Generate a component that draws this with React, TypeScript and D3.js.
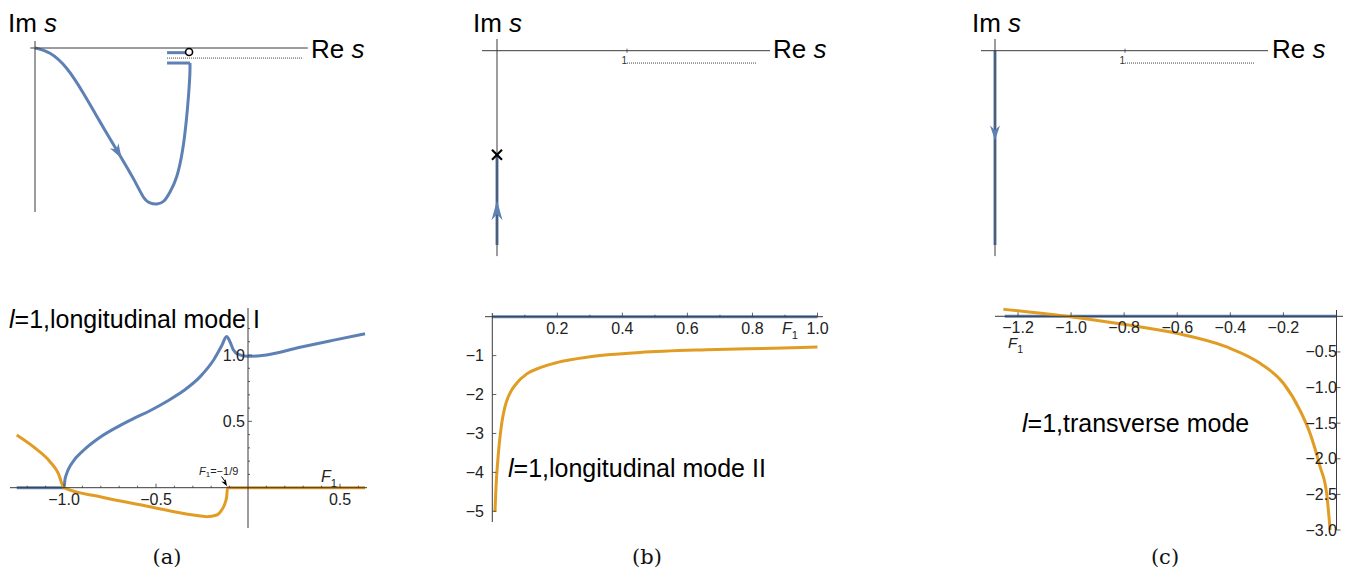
import React from 'react';
import * as d3 from 'd3';

// ---------- colours & fonts ----------
const BLUE = '#5E81B5';
const ORANGE = '#E19C24';
const AXIS = '#3a3a3a';
const SANS = '"Liberation Sans", Arial, Helvetica, sans-serif';
const SERIF = '"DejaVu Serif", "Liberation Serif", serif';

// ---------- root-locus sketches (Re s, Im s) ----------
// (a) longitudinal mode I
const locusARe = [0, 0.097, 0.204, 0.312, 0.419, 0.527, 0.634, 0.699, 0.742, 0.787, 0.832, 0.871, 0.914, 0.952, 0.976, 0.991, 0.999, 1.0];
const locusAIm = [0, -0.034, -0.131, -0.292, -0.475, -0.658, -0.841, -0.961, -0.999, -1.006, -0.987, -0.929, -0.831, -0.66, -0.47, -0.3, -0.17, -0.097];
const stubAIm = [-0.03, -0.097];
const stubAReFrom = [0.852, 0.852];
const stubAReTo = [0.985, 1.0];
const zeroA = [0.994, -0.026];
const cutA = [0.852, 1.73, -0.065];
const arrowARe = 0.54;

// (b) longitudinal mode II
const branchBIm = [-1.495, -0.8];
const poleBIm = -0.8;
const arrowBIm = -1.15;

// (c) transverse mode
const branchCIm = [0, -1.495];
const arrowCIm = -0.69;

const cutBC = [1, 2.0, -0.095];

// ---------- frequency curves vs F1 ----------
const modeIBlueF = [-1.257, -1.0, -0.995, -0.985, -0.958, -0.895, -0.804, -0.714, -0.623, -0.533, -0.442, -0.351, -0.261, -0.188, -0.143, -0.116, -0.098, -0.08, -0.053, 0, 0.1, 0.283, 0.46, 0.636];
const modeIBlueV = [0, 0, 0.058, 0.108, 0.183, 0.28, 0.38, 0.455, 0.52, 0.58, 0.65, 0.73, 0.835, 0.96, 1.07, 1.14, 1.1, 1.04, 1.005, 0.99, 1.0, 1.058, 1.11, 1.16];
const modeIOrangeF = [-1.257, -1.167, -1.076, -1.031, -1.0, -0.804, -0.533, -0.297, -0.224, -0.17, -0.143, -0.125, -0.116, -0.111, 0.636];
const modeIOrangeV = [0.397, 0.309, 0.196, 0.108, 0, -0.068, -0.143, -0.206, -0.218, -0.206, -0.168, -0.118, -0.068, 0, 0];
const modeIXTicks = [-1.0, -0.5, 0.5];
const modeIYTicks = [0.5, 1.0];

const modeIIBlueF = [0, 1.0];
const modeIIBlueV = [0, 0];
const modeIIOrangeF = [0.0083, 0.0114, 0.0154, 0.0216, 0.029, 0.039, 0.054, 0.075, 0.106, 0.147, 0.198, 0.3, 0.454, 0.659, 0.864, 1.0];
const modeIIOrangeV = [-5.01, -4.37, -3.86, -3.25, -2.74, -2.31, -1.97, -1.71, -1.47, -1.31, -1.18, -1.03, -0.92, -0.85, -0.81, -0.78];
const modeIIXTicks = [0.2, 0.4, 0.6, 0.8, 1.0];
const modeIIYTicks = [-1, -2, -3, -4, -5];

const transBlueF = [-1.25, 0];
const transBlueV = [0, 0];
const transOrangeF = [-1.255, -1.167, -1.004, -0.79, -0.602, -0.414, -0.288, -0.2, -0.1375, -0.1, -0.062, -0.037, -0.024];
const transOrangeV = [0.098, 0.065, -0.005, -0.12, -0.24, -0.43, -0.66, -0.94, -1.32, -1.64, -2.11, -2.49, -3.0];
const transXTicks = [-1.2, -1.0, -0.8, -0.6, -0.4, -0.2];
const transYTicks = [-0.5, -1.0, -1.5, -2.0, -2.5, -3.0];

// ---------- helpers ----------
const zip = (a: number[], b: number[]) => a.map((v, i) => [v, b[i]] as [number, number]);
const fmt = (v: number, d: number) => (v < 0 ? '\u2212' : '') + Math.abs(v).toFixed(d);
const isMajor = (list: number[], v: number) => list.some(m => Math.abs(m - v) < 1e-9);

function arrowPath(x: number, y: number, angle: number, len: number, wid: number) {
  const c = Math.cos(angle), s = Math.sin(angle);
  const pt = (u: number, v: number) => [x + u * c - v * s, y + u * s + v * c];
  const p = [pt(0, 0), pt(-len, -wid / 2), pt(-len * 0.7, 0), pt(-len, wid / 2)];
  return 'M' + p.map(q => q[0].toFixed(2) + ',' + q[1].toFixed(2)).join('L') + 'Z';
}

function ImRe({ x, y, rx, ry }: { x: number; y: number; rx: number; ry: number }) {
  return (
    <g fontFamily={SANS} fontSize={26} fill="#000">
      <text x={x} y={y}>Im <tspan fontStyle="italic">s</tspan></text>
      <text x={rx} y={ry}>Re <tspan fontStyle="italic">s</tspan></text>
    </g>
  );
}

function F1({ x, y, size = 16 }: { x: number; y: number; size?: number }) {
  return (
    <text x={x} y={y} fontFamily={SANS} fontSize={size} fill="#222">
      <tspan fontStyle="italic">F</tspan>
      <tspan fontSize={size * 0.7} dy={size * 0.3}>1</tspan>
    </text>
  );
}

function Title({ x, y, rest }: { x: number; y: number; rest: string }) {
  return (
    <text x={x} y={y} fontFamily={SANS} fontSize={25} fill="#000">
      <tspan fontStyle="italic">l</tspan>{rest}
    </text>
  );
}

export default function App() {
  // top sketches
  const xA = d3.scaleLinear().domain([0, 1]).range([35, 190]);
  const yA = d3.scaleLinear().domain([0, -1]).range([48, 203]);
  const xB = d3.scaleLinear().domain([0, 1]).range([497, 627]);
  const yB = d3.scaleLinear().domain([0, -1]).range([50.7, 180.7]);
  const xC = d3.scaleLinear().domain([0, 1]).range([995, 1125]);
  const yC = yB;

  const locusLine = d3.line<[number, number]>().x(d => xA(d[0])).y(d => yA(d[1])).curve(d3.curveNatural);
  const locusA = zip(locusARe, locusAIm);
  // arrow on locus (a): interpolate along the branch
  let ai = 0;
  while (ai < locusARe.length - 2 && locusARe[ai + 1] < arrowARe) ai++;
  const t = (arrowARe - locusARe[ai]) / (locusARe[ai + 1] - locusARe[ai]);
  const arIm = locusAIm[ai] + t * (locusAIm[ai + 1] - locusAIm[ai]);
  const angA = Math.atan2(yA(locusAIm[ai + 1]) - yA(locusAIm[ai]), xA(locusARe[ai + 1]) - xA(locusARe[ai]));
  const tipAx = xA(arrowARe) + Math.cos(angA) * 6;
  const tipAy = yA(arIm) + Math.sin(angA) * 6;

  // bottom plots
  const xa = d3.scaleLinear().domain([-1, 0.5]).range([64, 340]);
  const ya = d3.scaleLinear().domain([0, 1]).range([487.7, 355]);
  const xb = d3.scaleLinear().domain([0, 1]).range([492.3, 817.5]);
  const yb = d3.scaleLinear().domain([0, -5]).range([316.7, 511.3]);
  const xc = d3.scaleLinear().domain([-1.2, 0]).range([1018, 1336.5]);
  const yc = d3.scaleLinear().domain([0, -3]).range([316.3, 530]);

  const mk = (sx: d3.ScaleLinear<number, number>, sy: d3.ScaleLinear<number, number>) =>
    d3.line<[number, number]>().x(d => sx(d[0])).y(d => sy(d[1])).curve(d3.curveMonotoneX);
  const la = mk(xa, ya), lb = mk(xb, yb), lc = mk(xc, yc);

  const tickLabel = { fontFamily: SANS, fontSize: 16, fill: '#222' } as const;

  return (
    <svg width={1352} height={571} viewBox="0 0 1352 571" style={{ position: 'absolute', left: 0, top: 0, background: '#fff' }}>
      <rect width={1352} height={571} fill="#fff" />

      {/* ===== (a) top: root locus ===== */}
      <path d={locusLine(locusA) || ''} fill="none" stroke={BLUE} strokeWidth={3} />
      {stubAIm.map((im, i) => (
        <line key={i} x1={xA(stubAReFrom[i])} x2={xA(stubAReTo[i])} y1={yA(im)} y2={yA(im)} stroke={BLUE} strokeWidth={3} />
      ))}
      <path d={arrowPath(tipAx, tipAy, angA, 15, 10)} fill={BLUE} />
      <line x1={xA(cutA[0])} x2={xA(cutA[1])} y1={yA(cutA[2])} y2={yA(cutA[2])} stroke="#444" strokeWidth={1} strokeDasharray="1,1" />
      <line x1={xA(-0.03)} x2={xA(1.76)} y1={yA(0)} y2={yA(0)} stroke={AXIS} strokeWidth={1} />
      <line x1={xA(0)} x2={xA(0)} y1={yA(0.045)} y2={yA(-1.058)} stroke={AXIS} strokeWidth={1} />
      <circle cx={xA(zeroA[0])} cy={yA(zeroA[1])} r={3.5} fill="#fff" stroke="#000" strokeWidth={1.6} />
      <ImRe x={8} y={32} rx={311} ry={58} />

      {/* ===== (b) top ===== */}
      <line x1={xB(0)} x2={xB(0)} y1={yB(branchBIm[0])} y2={yB(branchBIm[1])} stroke={BLUE} strokeWidth={3} />
      <line x1={xB(cutBC[0])} x2={xB(cutBC[1])} y1={yB(cutBC[2])} y2={yB(cutBC[2])} stroke="#444" strokeWidth={1} strokeDasharray="1,1" />
      <line x1={xB(-0.115)} x2={xB(2.1)} y1={yB(0)} y2={yB(0)} stroke={AXIS} strokeWidth={1} />
      <line x1={xB(0)} x2={xB(0)} y1={yB(0.09)} y2={yB(-1.58)} stroke={AXIS} strokeWidth={1} />
      <line x1={xB(1)} x2={xB(1)} y1={yB(0) - 2} y2={yB(0) + 2} stroke={AXIS} strokeWidth={0.8} />
      <text x={xB(1)} y={yB(-0.095) + 1} fontFamily={SANS} fontSize={10} textAnchor="end" fill="#333">1</text>
      <path d={arrowPath(xB(0), yB(arrowBIm), -Math.PI / 2, 20, 11)} fill={BLUE} />
      <g stroke="#000" strokeWidth={2.2}>
        <line x1={xB(0) - 5} x2={xB(0) + 5} y1={yB(poleBIm) - 5} y2={yB(poleBIm) + 5} />
        <line x1={xB(0) - 5} x2={xB(0) + 5} y1={yB(poleBIm) + 5} y2={yB(poleBIm) - 5} />
      </g>
      <ImRe x={473} y={32} rx={773} ry={58} />

      {/* ===== (c) top ===== */}
      <line x1={xC(0)} x2={xC(0)} y1={yC(branchCIm[0])} y2={yC(branchCIm[1])} stroke={BLUE} strokeWidth={3} />
      <line x1={xC(cutBC[0])} x2={xC(cutBC[1])} y1={yC(cutBC[2])} y2={yC(cutBC[2])} stroke="#444" strokeWidth={1} strokeDasharray="1,1" />
      <line x1={xC(-0.108)} x2={xC(2.1)} y1={yC(0)} y2={yC(0)} stroke={AXIS} strokeWidth={1} />
      <line x1={xC(0)} x2={xC(0)} y1={yC(0.09)} y2={yC(-1.58)} stroke={AXIS} strokeWidth={1} />
      <line x1={xC(1)} x2={xC(1)} y1={yC(0) - 2} y2={yC(0) + 2} stroke={AXIS} strokeWidth={0.8} />
      <text x={xC(1)} y={yC(-0.095) + 1} fontFamily={SANS} fontSize={10} textAnchor="end" fill="#333">1</text>
      <path d={arrowPath(xC(0), yC(arrowCIm), Math.PI / 2, 15, 10)} fill={BLUE} />
      <ImRe x={972} y={32} rx={1272} ry={58} />

      {/* ===== (a) bottom: longitudinal mode I ===== */}
      <path d={la(zip(modeIBlueF, modeIBlueV)) || ''} fill="none" stroke={BLUE} strokeWidth={3} />
      <path d={la(zip(modeIOrangeF, modeIOrangeV)) || ''} fill="none" stroke={ORANGE} strokeWidth={3} />
      <line x1={10} x2={367} y1={ya(0)} y2={ya(0)} stroke={AXIS} strokeWidth={1} />
      <line x1={xa(0)} x2={xa(0)} y1={308} y2={528} stroke={AXIS} strokeWidth={1} />
      {d3.range(-12, 7).map(k => k / 10).filter(v => Math.abs(v) > 1e-9).map(v => (
        <line key={'amx' + v} x1={xa(v)} x2={xa(v)} y1={ya(0)} y2={ya(0) - (isMajor(modeIXTicks, v) ? 4 : 2)} stroke={AXIS} strokeWidth={0.8} />
      ))}
      {d3.range(1, 13).map(k => k / 10).map(v => (
        <line key={'amy' + v} x1={xa(0)} x2={xa(0) + (isMajor(modeIYTicks, v) ? 4 : 2)} y1={ya(v)} y2={ya(v)} stroke={AXIS} strokeWidth={0.8} />
      ))}
      {modeIXTicks.map(v => (
        <text key={'ax' + v} x={xa(v)} y={505} textAnchor="middle" {...tickLabel}>{fmt(v, 1)}</text>
      ))}
      {modeIYTicks.map(v => (
        <text key={'ay' + v} x={xa(0) - 3} y={ya(v) + 5.5} textAnchor="end" {...tickLabel}>{fmt(v, 1)}</text>
      ))}
      <F1 x={321} y={482} />
      <text x={199} y={475} fontFamily={SANS} fontSize={11} fill="#222">
        <tspan fontStyle="italic">F</tspan><tspan fontSize={8} dy={2}>1</tspan><tspan dy={-2}>=−1/9</tspan>
      </text>
      <line x1={221.5} y1={476.5} x2={225.5} y2={482} stroke="#000" strokeWidth={1} />
      <path d={arrowPath(xa(-1 / 9) - 0.5, ya(0) - 1.5, Math.atan2(9.5, 5.6), 7, 5)} fill="#000" />
      <Title x={9} y={328} rest="=1,longitudinal mode I" />

      {/* ===== (b) bottom: longitudinal mode II ===== */}
      <path d={lb(zip(modeIIBlueF, modeIIBlueV)) || ''} fill="none" stroke={BLUE} strokeWidth={3} />
      <path d={lb(zip(modeIIOrangeF, modeIIOrangeV)) || ''} fill="none" stroke={ORANGE} strokeWidth={3} />
      <line x1={485} x2={823} y1={yb(0)} y2={yb(0)} stroke={AXIS} strokeWidth={1} />
      <line x1={xb(0)} x2={xb(0)} y1={313} y2={522} stroke={AXIS} strokeWidth={1} />
      {d3.range(1, 11).map(k => k / 10).map(v => (
        <line key={'bmx' + v} x1={xb(v)} x2={xb(v)} y1={yb(0)} y2={yb(0) - (isMajor(modeIIXTicks, v) ? 4 : 2)} stroke={AXIS} strokeWidth={0.8} />
      ))}
      {modeIIYTicks.map(v => (
        <line key={'bmy' + v} x1={xb(0)} x2={xb(0) + 4} y1={yb(v)} y2={yb(v)} stroke={AXIS} strokeWidth={0.8} />
      ))}
      {modeIIXTicks.map(v => (
        <text key={'bx' + v} x={xb(v)} y={334} textAnchor="middle" {...tickLabel}>{fmt(v, 1)}</text>
      ))}
      {modeIIYTicks.map(v => (
        <text key={'by' + v} x={484} y={yb(v) + 5.5} textAnchor="end" {...tickLabel}>{fmt(v, 0)}</text>
      ))}
      <F1 x={782} y={334} />
      <Title x={508} y={477} rest="=1,longitudinal mode II" />

      {/* ===== (c) bottom: transverse mode ===== */}
      <path d={lc(zip(transBlueF, transBlueV)) || ''} fill="none" stroke={BLUE} strokeWidth={3} />
      <path d={lc(zip(transOrangeF, transOrangeV)) || ''} fill="none" stroke={ORANGE} strokeWidth={3} />
      <line x1={995} x2={1343} y1={yc(0)} y2={yc(0)} stroke={AXIS} strokeWidth={1} />
      <line x1={xc(0)} x2={xc(0)} y1={310} y2={530} stroke={AXIS} strokeWidth={1} />
      {transXTicks.map(v => (
        <line key={'cmx' + v} x1={xc(v)} x2={xc(v)} y1={yc(0)} y2={yc(0) - 4} stroke={AXIS} strokeWidth={0.8} />
      ))}
      {transYTicks.map(v => (
        <line key={'cmy' + v} x1={xc(0)} x2={xc(0) + 4} y1={yc(v)} y2={yc(v)} stroke={AXIS} strokeWidth={0.8} />
      ))}
      {transXTicks.map(v => (
        <text key={'cx' + v} x={xc(v)} y={333} textAnchor="middle" {...tickLabel}>{fmt(v, 1)}</text>
      ))}
      {transYTicks.map(v => (
        <text key={'cy' + v} x={1337} y={yc(v) + 5.5} textAnchor="end" {...tickLabel}>{fmt(v, 1)}</text>
      ))}
      <F1 x={1008} y={348} size={15} />
      <Title x={1022} y={432} rest="=1,transverse mode" />

      {/* ===== captions ===== */}
      <g fontFamily={SERIF} fontSize={21} textAnchor="middle" fill="#111">
        <text x={167} y={564}>(a)</text>
        <text x={647} y={564}>(b)</text>
        <text x={1165} y={564}>(c)</text>
      </g>
    </svg>
  );
}
